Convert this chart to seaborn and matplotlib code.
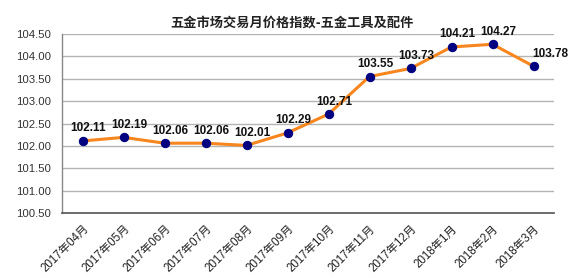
import matplotlib
matplotlib.use("Agg")
import matplotlib.pyplot as plt
import seaborn as sns
import pandas as pd
import numpy as np

months = ["2017年04月", "2017年05月", "2017年06月", "2017年07月", "2017年08月", "2017年09月",
          "2017年10月", "2017年11月", "2017年12月", "2018年1月", "2018年2月", "2018年3月"]
values = [102.11, 102.19, 102.06, 102.06, 102.01, 102.29,
          102.71, 103.55, 103.73, 104.21, 104.27, 103.78]
yticks = [100.50, 101.00, 101.50, 102.00, 102.50, 103.00, 103.50, 104.00, 104.50]
title = "五金市场交易月价格指数-五金工具及配件"

sns.set_theme(style="white")
plt.rcParams['font.family'] = ['Liberation Sans', 'Noto Sans CJK SC', 'DejaVu Sans']

df = pd.DataFrame({"month": months, "value": values})

fig = plt.figure(figsize=(5.88, 2.78), dpi=100)
ax = fig.add_axes([62/588, 1-213/278, (554-62)/588, (213-34)/278])

sns.lineplot(data=df, x="month", y="value", ax=ax, color="#F7861E", linewidth=2.2,
             marker="o", markersize=6, markerfacecolor="#000080", markeredgecolor="#000080",
             sort=False, zorder=3)

ax.set_xlim(-0.5, len(months) - 0.5)
ax.set_ylim(yticks[0], yticks[-1])
ax.set_yticks(yticks)
ax.set_yticklabels([f"{v:.2f}" for v in yticks], fontsize=8.2, color="#333333")
ax.yaxis.grid(True, color="#B4B4B4", linewidth=1)
ax.xaxis.grid(False)
ax.tick_params(axis="y", length=0, pad=8)

ax.set_xticks(range(len(months)))
ax.set_xticklabels(months, rotation=45, ha="right", rotation_mode="anchor",
                   fontsize=8.3, color="#222222")
ax.tick_params(axis="x", which="major", length=0, pad=7)
ax.set_xticks(np.arange(-0.5, len(months), 1), minor=True)
ax.tick_params(axis="x", which="minor", length=4, width=1, color="#555555", direction="out")

for s in ["top", "right"]:
    ax.spines[s].set_visible(False)
ax.spines["left"].set_color("#888888")
ax.spines["bottom"].set_color("#555555")
ax.spines["left"].set_linewidth(1)
ax.spines["bottom"].set_linewidth(1.2)
ax.set_xlabel("")
ax.set_ylabel("")

for i, v in enumerate(values):
    dx = 12 if i == len(values) - 1 else 4
    ax.annotate(f"{v:.2f}", (i, v), xytext=(dx, 9), textcoords="offset points",
                ha="center", va="center", fontsize=8.5, fontweight="bold", color="#111111",
                zorder=4)

fig.text(292/588, 1-23/278, title, ha="center", va="center", fontsize=9.5,
         fontweight="bold", color="#222222", family=['Noto Sans CJK SC', 'DejaVu Sans'])

fig.savefig("out.png", dpi=100, facecolor="white")
